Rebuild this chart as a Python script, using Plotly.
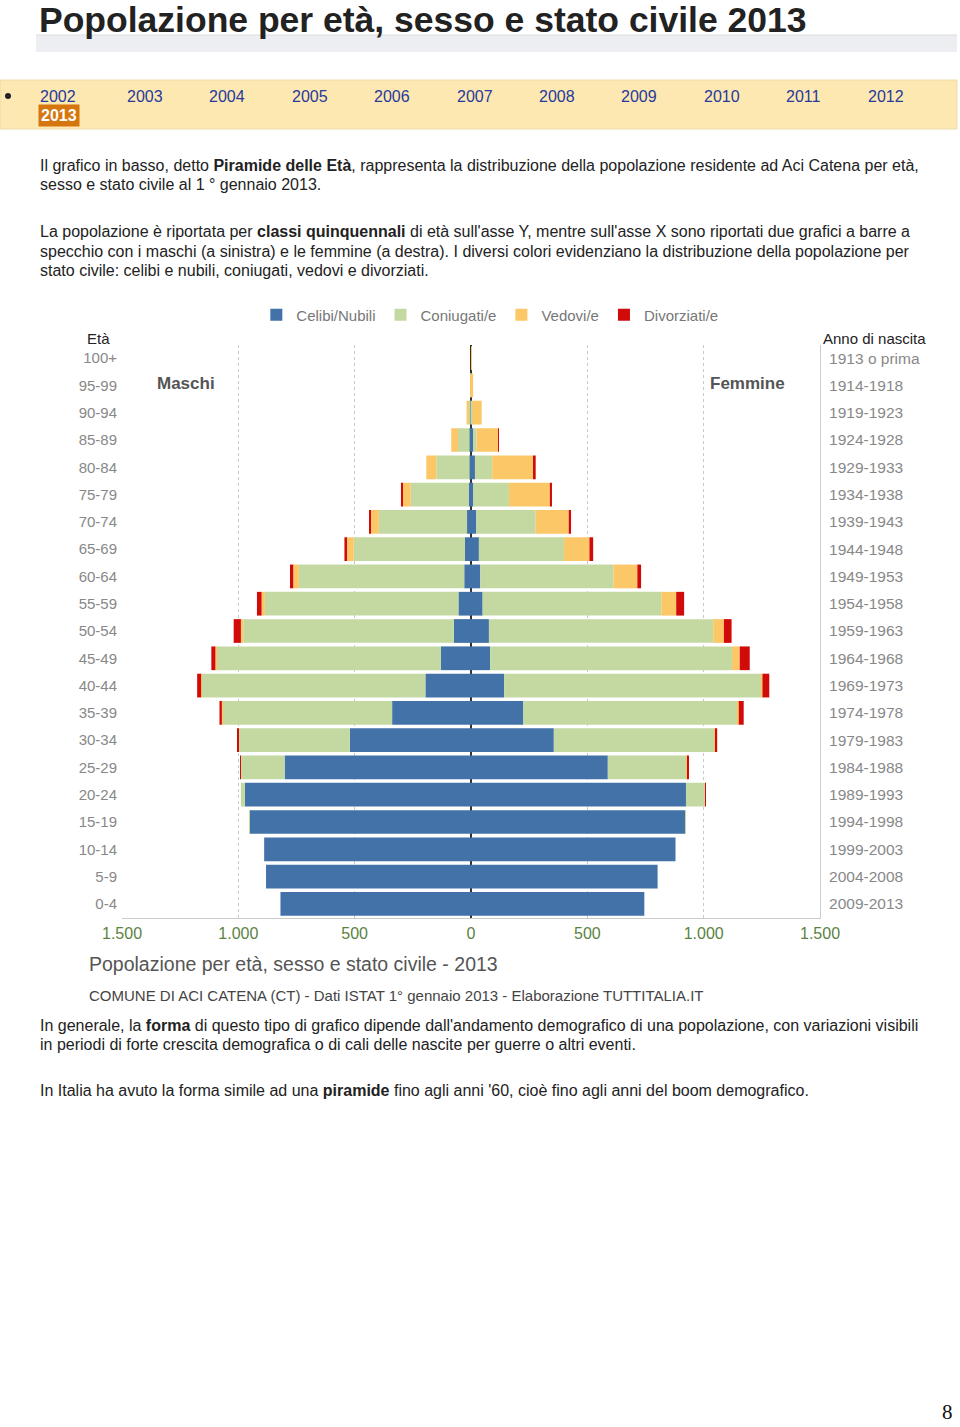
import plotly.graph_objects as go

# ---------------- data ----------------
age_classes = ["0-4", "5-9", "10-14", "15-19", "20-24", "25-29", "30-34", "35-39",
               "40-44", "45-49", "50-54", "55-59", "60-64", "65-69", "70-74",
               "75-79", "80-84", "85-89", "90-94", "95-99", "100+"]
birth_years = ["2009-2013", "2004-2008", "1999-2003", "1994-1998", "1989-1993",
               "1984-1988", "1979-1983", "1974-1978", "1969-1973", "1964-1968",
               "1959-1963", "1954-1958", "1949-1953", "1944-1948", "1939-1943",
               "1934-1938", "1929-1933", "1924-1928", "1919-1923", "1914-1918",
               "1913 o prima"]

male_celibi = [819, 881, 889, 951, 972, 801, 521, 339, 196, 130, 74, 54, 29, 26, 17, 10, 6, 6, 2, 0, 0]
male_coniugati = [0, 0, 0, 2, 17, 189, 478, 728, 961, 965, 905, 832, 711, 478, 379, 249, 143, 50, 10, 1, 0]
male_vedovi = [0, 0, 0, 0, 0, 0, 1, 4, 3, 4, 10, 14, 24, 29, 36, 36, 43, 29, 7, 1, 0]
male_divorziati = [0, 0, 0, 0, 0, 1, 3, 10, 17, 17, 31, 20, 14, 11, 6, 6, 0, 0, 0, 0, 0]

female_nubili = [745, 802, 879, 921, 924, 588, 356, 225, 143, 82, 77, 50, 40, 34, 23, 10, 17, 10, 2, 1, 0]
female_coniugate = [0, 0, 0, 3, 83, 339, 692, 920, 1104, 1040, 964, 768, 573, 366, 255, 153, 74, 14, 4, 0, 0]
female_vedove = [0, 0, 0, 0, 0, 2, 3, 6, 6, 33, 46, 64, 102, 109, 142, 176, 179, 93, 40, 8, 2]
female_divorziate = [0, 0, 0, 0, 1, 5, 7, 21, 29, 43, 33, 34, 16, 16, 10, 9, 8, 3, 0, 0, 0]

x_tick_values = [-1500, -1000, -500, 0, 500, 1000, 1500]
x_tick_labels = ["1.500", "1.000", "500", "0", "500", "1.000", "1.500"]

years_nav = ["2002", "2003", "2004", "2005", "2006", "2007", "2008", "2009", "2010", "2011", "2012"]

series = [
    ("Celibi/Nubili", male_celibi, female_nubili, "#4272a7"),
    ("Coniugati/e", male_coniugati, female_coniugate, "#c4d9a2"),
    ("Vedovi/e", male_vedovi, female_vedove, "#fcc766"),
    ("Divorziati/e", male_divorziati, female_divorziate, "#d10a0a"),
]

# ---------------- page geometry ----------------
W, H = 960, 1427
FONT = "Liberation Sans, Arial, Helvetica, sans-serif"


def px(x, y):
    return x / W, 1 - y / H


rows = list(range(len(age_classes)))

fig = go.Figure()
for name, m, f, color in series:
    fig.add_trace(go.Bar(
        y=rows, x=[-v for v in m], orientation="h", name=name,
        marker=dict(color=color, line=dict(width=0)),
        legendgroup=name, showlegend=True, hoverinfo="skip"))
for name, m, f, color in series:
    fig.add_trace(go.Bar(
        y=rows, x=f, orientation="h", name=name,
        marker=dict(color=color, line=dict(width=0)),
        legendgroup=name, showlegend=False, hoverinfo="skip"))

# invisible helper trace so the right-hand axis (birth years) is drawn
fig.add_trace(go.Scatter(x=[0] * len(rows), y=rows, yaxis="y2", mode="markers",
                         marker=dict(opacity=0), showlegend=False, hoverinfo="skip"))

x0d, x1d = 122 / W, 820 / W
ybot, ytop = 1 - 917.5 / H, 1 - 344.5 / H

fig.update_layout(
    width=W, height=H, margin=dict(l=0, r=0, t=0, b=0, autoexpand=False),
    paper_bgcolor="white", plot_bgcolor="white",
    barmode="relative", bargap=0.13,
    font=dict(family=FONT, color="#222"),
    showlegend=True,
    legend=dict(orientation="h", x=0.267, xanchor="left", y=1 - 315 / H, yanchor="middle",
                font=dict(size=15, color="#777", family=FONT), traceorder="normal",
                bgcolor="rgba(0,0,0,0)"),
    xaxis=dict(domain=[x0d, x1d], range=[-1500, 1500], tickvals=x_tick_values,
               ticktext=x_tick_labels, tickfont=dict(size=16, color="#5a8342"),
               showgrid=True, gridcolor="#c8c8c8", griddash="dot", gridwidth=1,
               zeroline=True, zerolinecolor="#333", zerolinewidth=1.5,
               showline=True, linecolor="#cccccc", linewidth=1, ticks="",
               layer="above traces", ticklabelstandoff=1, automargin=False, fixedrange=True),
    yaxis=dict(domain=[ybot, ytop], range=[-0.5, 20.5], tickvals=rows, ticktext=age_classes,
               tickfont=dict(size=15, color="#888"), showgrid=False, zeroline=False,
               showline=False, ticks="", ticklabelstandoff=4, automargin=False, fixedrange=True),
    yaxis2=dict(overlaying="y", side="right", anchor="x", range=[-0.5, 20.5],
                tickvals=rows, ticktext=birth_years, tickfont=dict(size=15.5, color="#888"),
                showgrid=False, zeroline=False, showline=True, linecolor="#cccccc",
                ticks="", ticklabelstandoff=5, automargin=False, fixedrange=True),
)

shapes = []
# grey band under the title
a, b = px(36, 35), px(957, 52)
shapes.append(dict(type="rect", xref="paper", yref="paper", x0=a[0], y0=a[1], x1=b[0], y1=b[1],
                   fillcolor="#eceef1", line=dict(width=0), layer="below"))
a, b = px(36, 35), px(957, 35)
shapes.append(dict(type="line", xref="paper", yref="paper", x0=a[0], y0=a[1], x1=b[0], y1=b[1],
                   line=dict(color="#dcdde0", width=1)))
# yellow navigation band
a, b = px(0, 80), px(957, 129)
shapes.append(dict(type="rect", xref="paper", yref="paper", x0=a[0], y0=a[1], x1=b[0], y1=b[1],
                   fillcolor="#fde8b1", line=dict(color="#eadcae", width=1), layer="below"))
# bullet
a, b = px(5, 93), px(11, 99)
shapes.append(dict(type="circle", xref="paper", yref="paper", x0=a[0], y0=a[1], x1=b[0], y1=b[1],
                   fillcolor="#222", line=dict(width=0)))
fig.update_layout(shapes=shapes)

ann = []


def text(x, y, s, size=16, color="#222", xanchor="left", family=FONT, **kw):
    if xanchor == "left":
        x -= 1.5
    xx, yy = px(x, y)
    ann.append(dict(x=xx, y=yy, xref="paper", yref="paper", text=s, showarrow=False,
                    xanchor=xanchor, yanchor="middle", align=xanchor if xanchor != "center" else "center",
                    font=dict(size=size, color=color, family=family), **kw))


# page title
text(38, 20, "<b>Popolazione per età, sesso e stato civile 2013</b>", size=35.5, color="#222")

# year links
nav_x = [39, 126, 208, 291, 373, 456, 538, 620, 703, 785, 867]
for xx, yr in zip(nav_x, years_nav):
    text(xx, 96, yr, size=16, color="#27399c")
text(39, 116, "<b>2013</b>", size=16, color="white", bgcolor="#d6760f", borderpad=2)

# paragraphs
text(39, 166, "Il grafico in basso, detto <b>Piramide delle Età</b>, rappresenta la distribuzione "
              "della popolazione residente ad Aci Catena per età,")
text(39, 185, "sesso e stato civile al 1 ° gennaio 2013.")
text(39, 232, "La popolazione è riportata per <b>classi quinquennali</b> di età sull'asse Y, mentre "
              "sull'asse X sono riportati due grafici a barre a")
text(39, 251, "specchio con i maschi (a sinistra) e le femmine (a destra). I diversi colori evidenziano "
              "la distribuzione della popolazione per")
text(39, 270, "stato civile: celibi e nubili, coniugati, vedovi e divorziati.")

# chart labels
text(98, 338, "Età", size=15, color="#222", xanchor="center")
text(822, 338, "Anno di nascita", size=15, color="#222")
text(186, 383, "<b>Maschi</b>", size=17, color="#555", xanchor="center")
text(747, 383, "<b>Femmine</b>", size=17, color="#555", xanchor="center")
text(88, 964, "Popolazione per età, sesso e stato civile - 2013", size=19.5, color="#555")
text(88, 995, "COMUNE DI ACI CATENA (CT) - Dati ISTAT 1° gennaio 2013 - Elaborazione TUTTITALIA.IT",
     size=15, color="#444")

# lower paragraphs
text(39, 1025, "In generale, la <b>forma</b> di questo tipo di grafico dipende dall'andamento demografico "
               "di una popolazione, con variazioni visibili")
text(39, 1044, "in periodi di forte crescita demografica o di cali delle nascite per guerre o altri eventi.")
text(39, 1090, "In Italia ha avuto la forma simile ad una <b>piramide</b> fino agli anni '60, cioè fino "
               "agli anni del boom demografico.")

# page number
text(947, 1412, "8", size=21, color="#111", xanchor="center",
     family="Liberation Serif, DejaVu Serif, serif")

fig.update_layout(annotations=ann)
fig.write_html("out.html", config={"displayModeBar": False},
               post_script="document.body.style.margin='0px';document.body.style.overflow='hidden';")
